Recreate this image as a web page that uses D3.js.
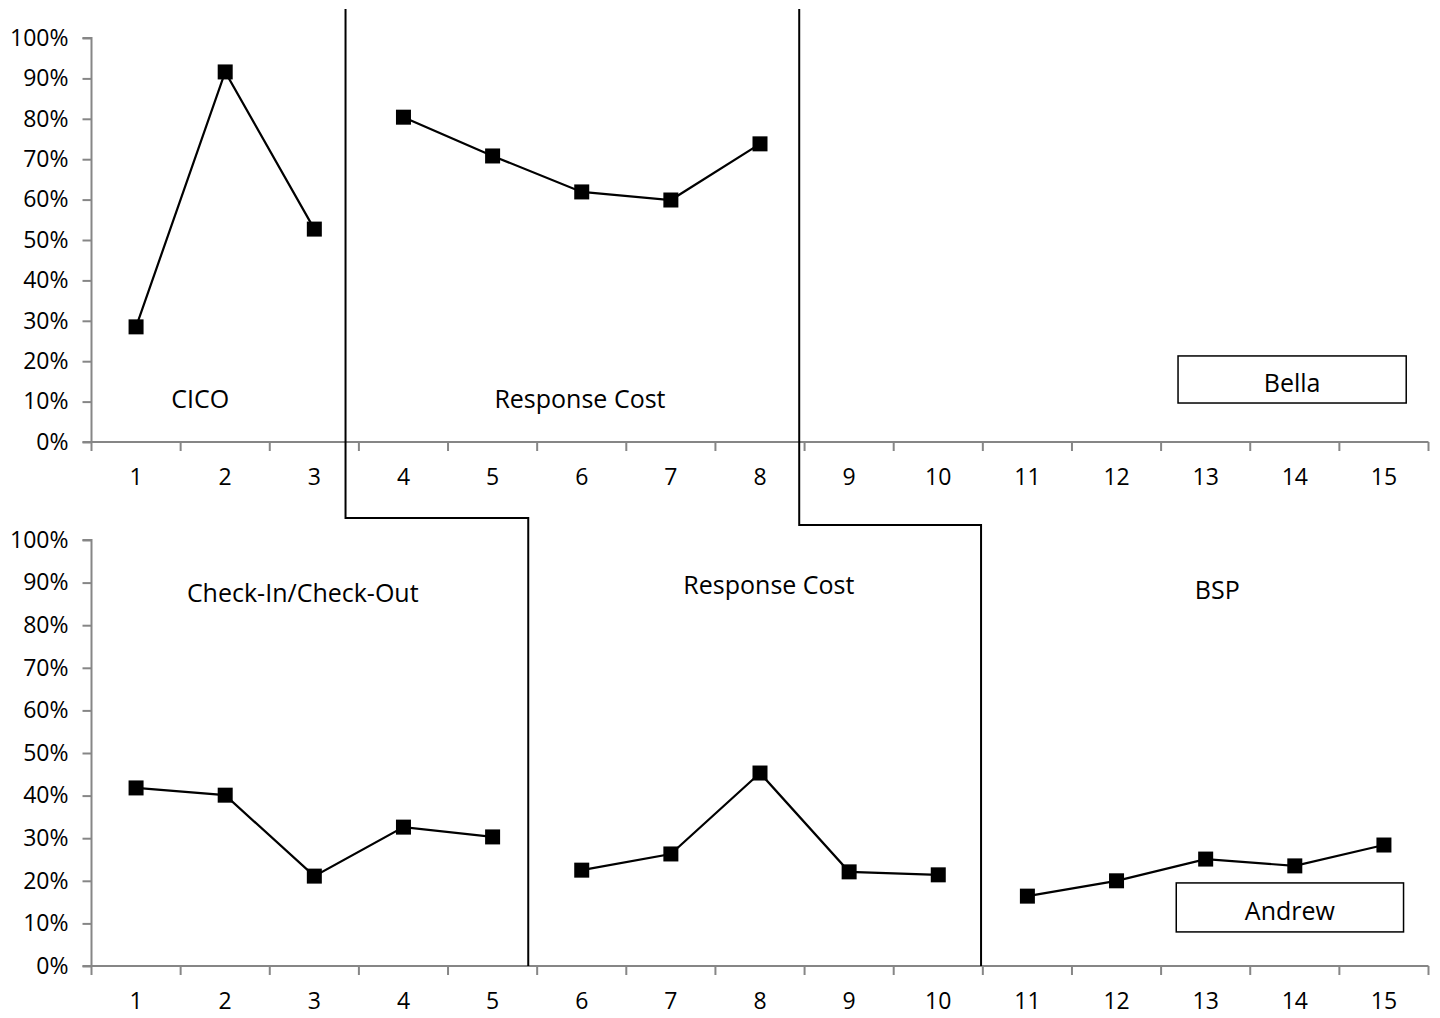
<!DOCTYPE html>
<html>
<head>
<meta charset="utf-8">
<script src="https://cdn.jsdelivr.net/npm/d3@7"></script>
<style>
  html, body { margin: 0; padding: 0; background: #fff; }
  svg { display: block; }
  text { font-family: "Open Sans", "Noto Sans", sans-serif; fill: #000; }
</style>
</head>
<body>
<svg id="chart" width="1440" height="1018"></svg>
<script>
// Sessions on the x axis
const sessions = d3.range(1, 16);
const yTicks = [0, 0.1, 0.2, 0.3, 0.4, 0.5, 0.6, 0.7, 0.8, 0.9, 1.0];

// Bella: percentage per session, split by phase
const bellaCICO = [[1, 0.285], [2, 0.916], [3, 0.527]];
const bellaRC   = [[4, 0.804], [5, 0.708], [6, 0.619], [7, 0.599], [8, 0.738]];

// Andrew: percentage per session, split by phase
const andrewCICO = [[1, 0.418], [2, 0.401], [3, 0.211], [4, 0.326], [5, 0.303]];
const andrewRC   = [[6, 0.225], [7, 0.263], [8, 0.453], [9, 0.221], [10, 0.214]];
const andrewBSP  = [[11, 0.164], [12, 0.200], [13, 0.251], [14, 0.235], [15, 0.284]];

// Phase labels: [text, session position, value position]
const bellaLabels  = [["CICO", 1.72, 0.108], ["Response Cost", 5.98, 0.109]];
const andrewLabels = [["Check-In/Check-Out", 2.87, 0.877], ["Response Cost", 8.1, 0.897], ["BSP", 13.13, 0.886]];

// Phase-change positions (in session units)
const phaseTop    = [3.35, 8.44];
const phaseBottom = [5.40, 10.48];

const svg = d3.select("#chart");
const axisColor = "#868686";
const tickFont = 23;
const labelFont = 25;

const x = d3.scaleLinear().domain([0.5, 15.5]).range([91.5, 1428.5]);

const panels = [
  { top: 38, bottom: 442, series: [bellaCICO, bellaRC], labels: bellaLabels,
    name: "Bella", box: [12.69, 15.25, 0.0965, 0.213] },
  { top: 540, bottom: 966, series: [andrewCICO, andrewRC, andrewBSP], labels: andrewLabels,
    name: "Andrew", box: [12.67, 15.22, 0.08, 0.195] }
];

panels.forEach(p => {
  const y = d3.scaleLinear().domain([0, 1]).range([p.bottom, p.top]);
  const g = svg.append("g");

  // y axis
  const ya = g.append("g").attr("transform", `translate(${x(0.5)},0)`)
    .call(d3.axisLeft(y).tickValues(yTicks).tickSize(9).tickPadding(14)
      .tickFormat(d => Math.round(d * 100) + "%"));
  ya.select(".domain").attr("stroke", axisColor).attr("stroke-width", 2).attr("d", `M-9,${y(1)}H0V${y(0)}`);
  ya.selectAll(".tick line").attr("stroke", axisColor).attr("stroke-width", 2);
  ya.selectAll(".tick text").attr("font-size", tickFont).attr("font-family", '"Open Sans", sans-serif').attr("fill", "#000");

  // x axis: ticks sit on category boundaries, labels centred between them
  const xa = g.append("g").attr("transform", `translate(0,${p.bottom})`);
  xa.append("line").attr("x1", x(0.5) - 9).attr("x2", x(15.5))
    .attr("stroke", axisColor).attr("stroke-width", 2);
  xa.selectAll("line.tk").data(d3.range(0.5, 15.6, 1)).join("line").attr("class", "tk")
    .attr("x1", d => x(d)).attr("x2", d => x(d)).attr("y1", 0).attr("y2", 9)
    .attr("stroke", axisColor).attr("stroke-width", 2);
  xa.selectAll("text").data(sessions).join("text")
    .attr("x", d => x(d)).attr("y", 43).attr("text-anchor", "middle")
    .attr("font-size", tickFont).text(d => d);

  // series lines and square markers
  const line = d3.line().x(d => x(d[0])).y(d => y(d[1]));
  p.series.forEach(s => {
    g.append("path").datum(s).attr("d", line).attr("fill", "none")
      .attr("stroke", "#000").attr("stroke-width", 2.2);
    g.selectAll(null).data(s).join("rect")
      .attr("x", d => x(d[0]) - 7.5).attr("y", d => y(d[1]) - 7.5)
      .attr("width", 15).attr("height", 15).attr("fill", "#000");
  });

  // phase labels
  g.selectAll("text.phase").data(p.labels).join("text").attr("class", "phase")
    .attr("x", d => x(d[1])).attr("y", d => y(d[2]))
    .attr("text-anchor", "middle").attr("dominant-baseline", "central")
    .attr("font-size", labelFont).text(d => d[0]);

  // participant name box
  const [b0, b1, v0, v1] = p.box;
  g.append("rect").attr("x", x(b0)).attr("y", y(v1))
    .attr("width", x(b1) - x(b0)).attr("height", y(v0) - y(v1))
    .attr("fill", "#fff").attr("stroke", "#000").attr("stroke-width", 1.5);
  g.append("text").attr("x", (x(b0) + x(b1)) / 2).attr("y", (y(v0) + y(v1)) / 2 + 3)
    .attr("text-anchor", "middle").attr("dominant-baseline", "central")
    .attr("font-size", labelFont).text(p.name);
});

// stepped phase-change lines spanning both panels
const stepY = [518, 525];
phaseTop.forEach((t, i) => {
  const b = phaseBottom[i];
  const pts = [[x(t), 9], [x(t), stepY[i]], [x(b), stepY[i]], [x(b), panels[1].bottom]];
  svg.append("path").attr("d", d3.line()(pts)).attr("fill", "none")
    .attr("stroke", "#000").attr("stroke-width", 2);
});
</script>
</body>
</html>
